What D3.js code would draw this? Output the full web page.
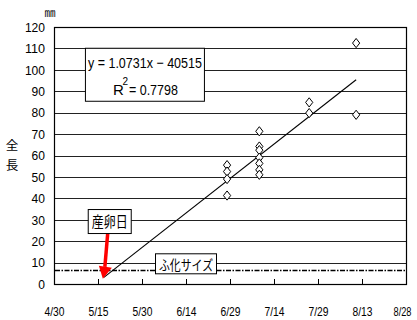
<!DOCTYPE html>
<html><head><meta charset="utf-8">
<script src="https://cdn.jsdelivr.net/npm/d3@7"></script>
<style>
html,body{margin:0;padding:0;background:#fff;}
svg{display:block;}
text{font-family:"Liberation Sans",Arial,sans-serif;fill:#000;}
.jp{font-family:"Noto Sans CJK JP",sans-serif;}
</style>
</head><body>
<svg id="chart" width="417" height="320"></svg>
<script>
// ---- data ----
const tickDates = ["4/30","5/15","5/30","6/14","6/29","7/14","7/29","8/13","8/28"];
const yTicks = [0,10,20,30,40,50,60,70,80,90,100,110,120];
const sampleDates = ["6/28","6/28","6/28","6/28",
  "7/9","7/9","7/9","7/9","7/9","7/9","7/9",
  "7/26","7/26","8/11","8/11"];
const sampleLengths = [55.5,52.5,49,41.3,
  71.3,64.2,62.5,59,56.3,53.3,51,
  84.8,79.8,112.5,79];
const trendSlope = 1.0731, trendIntercept = -40515;
const trendRange = ["5/17","8/11"];
const hatchSize = 6.3;
const year = 2003;

// ---- helpers ----
const parse = s => { const [m,d] = s.split("/").map(Number); return new Date(year, m-1, d); };
const serial = dt => Math.round((Date.UTC(dt.getFullYear(),dt.getMonth(),dt.getDate()) - Date.UTC(1899,11,30))/86400000);
const trend = dt => trendSlope*serial(dt) + trendIntercept;

const svg = d3.select("#chart");
const L=54, R=406, T=27, B=284;
const x = d3.scaleTime().domain([parse("4/30"), parse("8/28")]).range([L,R]);
const y = d3.scaleLinear().domain([0,120]).range([B,T]);

// gridlines
svg.append("g").selectAll("line").data(yTicks.filter(v=>v>0 && v<120)).join("line")
  .attr("x1",L).attr("x2",R).attr("y1",d=>Math.round(y(d))+0.5).attr("y2",d=>Math.round(y(d))+0.5)
  .attr("stroke","#222").attr("stroke-width",1);

// plot border
svg.append("rect").attr("x",L+0.5).attr("y",T+0.5).attr("width",R-L).attr("height",B-T)
  .attr("fill","none").attr("stroke","#000").attr("stroke-width",1.2);

// y axis labels
const yAxis = d3.axisLeft(y).tickValues(yTicks).tickSize(0).tickPadding(9);
const gy = svg.append("g").attr("transform",`translate(${L},0)`).call(yAxis);
gy.select(".domain").remove();
gy.selectAll("text").attr("font-family","Liberation Sans, Arial, sans-serif")
  .attr("font-size",13.5).attr("fill","#000")
  .attr("textLength",d=>String(d).length*6.7).attr("lengthAdjust","spacingAndGlyphs");

// x axis (inside ticks) + labels
const xAxis = d3.axisBottom(x).tickValues(tickDates.map(parse))
  .tickFormat(d=>(d.getMonth()+1)+"/"+d.getDate()).tickSize(-5).tickPadding(23);
const gx = svg.append("g").attr("transform",`translate(0,${B})`).call(xAxis);
gx.select(".domain").remove();
gx.selectAll("line").attr("stroke","#000");
gx.selectAll("text").attr("font-family","Liberation Sans, Arial, sans-serif")
  .attr("font-size",12).attr("fill","#000")
  .attr("textLength",(d,i,n)=> i===n.length-1 ? 18 : 20).attr("lengthAdjust","spacingAndGlyphs")
  .attr("dx",(d,i,n)=> i===n.length-1 ? -4 : 0);

// hatch-size dashed line
svg.append("line").attr("x1",L+1).attr("x2",R-1)
  .attr("y1",y(hatchSize)).attr("y2",y(hatchSize))
  .attr("stroke","#000").attr("stroke-width",1.6).attr("stroke-dasharray","5,1.5,1.5,1.5");

// trend line
const t0 = parse(trendRange[0]), t1 = parse(trendRange[1]);
svg.append("line").attr("x1",x(t0)).attr("y1",y(trend(t0)))
  .attr("x2",x(t1)).attr("y2",y(trend(t1)))
  .attr("stroke","#000").attr("stroke-width",1.1);

// diamonds
const dw=3.6, dh=4.6;
svg.append("g").selectAll("path").data(sampleLengths).join("path")
  .attr("d",(d,i)=>{const cx=x(parse(sampleDates[i])), cy=y(d);
    return `M${cx},${cy-dh}L${cx+dw},${cy}L${cx},${cy+dh}L${cx-dw},${cy}Z`;})
  .attr("fill","#fff").attr("stroke","#000").attr("stroke-width",1);

// equation box
const eqCx = x(parse("5/31")), eqCy = y(97.7);
svg.append("rect").attr("x",eqCx-59.5).attr("y",eqCy-26.5).attr("width",119).attr("height",53)
  .attr("fill","#fff").attr("stroke","#000").attr("stroke-width",1);
svg.append("text").attr("x",eqCx).attr("y",eqCy-7).attr("text-anchor","middle")
  .attr("font-size",15).attr("textLength",114).attr("lengthAdjust","spacingAndGlyphs")
  .text("y = 1.0731x − 40515");
svg.append("text").attr("x",eqCx-32).attr("y",eqCy+20).attr("text-anchor","start")
  .attr("font-size",15).text("R");
svg.append("text").attr("x",eqCx-22.5).attr("y",eqCy+10).attr("text-anchor","start")
  .attr("font-size",10).text("2");
svg.append("text").attr("x",eqCx-16).attr("y",eqCy+20).attr("text-anchor","start")
  .attr("font-size",15).attr("textLength",49).attr("lengthAdjust","spacingAndGlyphs").text("= 0.7798");

// spawning-day annotation
const spawnTip = [x(t0)-1, y(trend(t0))+1.5];
const slX = x(parse("5/19")), slY = y(29.4);
svg.append("line").attr("x1",slX-2).attr("y1",slY+12).attr("x2",spawnTip[0]+2).attr("y2",spawnTip[1]-12)
  .attr("stroke","#ff0000").attr("stroke-width",3.5);
svg.append("path").attr("d",`M${spawnTip[0]},${spawnTip[1]} L${spawnTip[0]-4},${spawnTip[1]-13} L${spawnTip[0]+9},${spawnTip[1]-11} Z`)
  .attr("fill","#ff0000");
svg.append("rect").attr("x",slX-21.5).attr("y",slY-11.5).attr("width",43).attr("height",24)
  .attr("fill","#fff").attr("stroke","#000").attr("stroke-width",1);
svg.append("text").attr("class","jp").attr("x",slX).attr("y",slY+6).attr("text-anchor","middle")
  .attr("font-size",15).attr("textLength",36).attr("lengthAdjust","spacingAndGlyphs").text("産卵日");

// hatch-size label
const hlX = x(parse("6/14")), hlY = y(9.2);
svg.append("rect").attr("x",hlX-30.5).attr("y",hlY-10.5).attr("width",61).attr("height",20)
  .attr("fill","#fff").attr("stroke","#000").attr("stroke-width",1);
svg.append("text").attr("class","jp").attr("x",hlX).attr("y",hlY+5.5).attr("text-anchor","middle")
  .attr("font-size",14).attr("textLength",54).attr("lengthAdjust","spacingAndGlyphs").text("ふ化サイズ");

// unit and y label
svg.append("text").attr("class","jp").attr("x",50).attr("y",17).attr("text-anchor","middle")
  .attr("font-size",11).text("㎜");
const yl = svg.append("text").attr("class","jp").attr("text-anchor","middle").attr("font-size",12.5);
yl.append("tspan").attr("x",12).attr("y",150).text("全");
yl.append("tspan").attr("x",12).attr("y",170).text("長");
</script>
</body></html>
